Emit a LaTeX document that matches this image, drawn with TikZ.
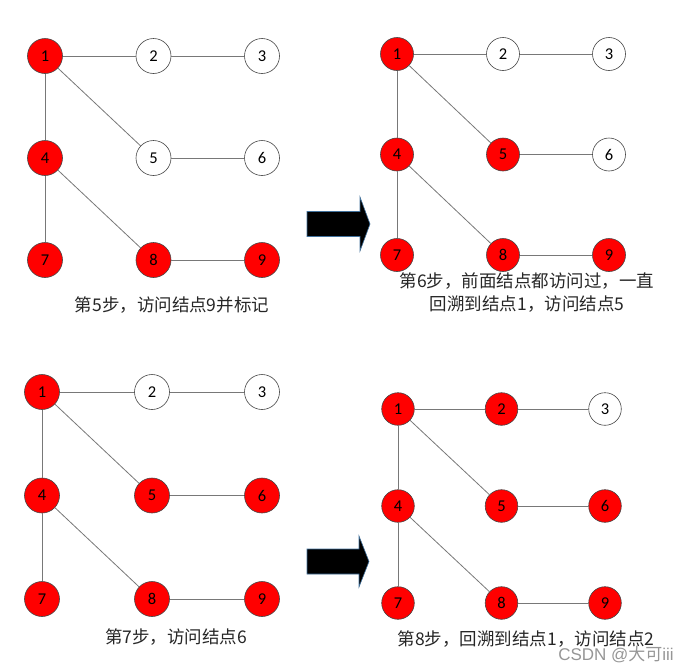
\documentclass[tikz,border=0pt]{standalone}
\usepackage{fontspec}
\newfontfamily\cjk{Noto Sans CJK SC}
\newfontfamily\numf{Carlito}
\newfontfamily\wmf{Liberation Sans}
\definecolor{edgegray}{RGB}{120,120,120}
\definecolor{nodeborder}{RGB}{70,70,70}
\definecolor{arrowedge}{RGB}{65,113,156}
\definecolor{wmgray}{RGB}{150,150,150}
\tikzset{
  gnode/.style={circle, draw=nodeborder, line width=0.6pt, inner sep=0pt, font=\numf\fontsize{16.5}{16.5}\selectfont},
  gedge/.style={draw=edgegray, line width=0.8pt},
  caption/.style={font=\cjk\fontsize{17.5}{23}\selectfont, text=black!85, align=center, inner sep=0pt},
  bigarrow/.style={fill=black, draw=arrowedge, line width=0.6pt, line join=miter},
}
\newcommand{\dfsgraph}[7]{%
  \foreach \i/\c/\r in {1/0/0,2/1/0,3/2/0,4/0/1,5/1/1,6/2/1,7/0/2,8/1/2,9/2/2}{%
    \gdef\fillc{white}%
    \foreach \v in {#7}{\ifnum\v=\i\relax\gdef\fillc{red}\fi}%
    \node[gnode, fill=\fillc, minimum size=2*#6] (#1\i) at ({#2+\c*#4},{#3+\r*#5}) {\i};
  }
  \draw[gedge] (#11) -- (#12);
  \draw[gedge] (#12) -- (#13);
  \draw[gedge] (#11) -- (#14);
  \draw[gedge] (#11) -- (#15);
  \draw[gedge] (#14) -- (#17);
  \draw[gedge] (#14) -- (#18);
  \draw[gedge] (#15) -- (#16);
  \draw[gedge] (#18) -- (#19);
}
\begin{document}
\begin{tikzpicture}[x=1pt, y=-1pt]
\useasboundingbox (0,0) rectangle (694,672);
% graph A: step 5
\dfsgraph{a}{45}{56}{108.5}{102}{17.5pt}{1,4,7,8,9}
\node[caption] (capa) at (172,305) {第5步，访问结点9并标记};
% graph B: step 6
\dfsgraph{b}{397}{54}{106}{100.5}{16.5pt}{1,4,5,7,8,9}
\node[caption] (capb) at (527,293) {第6步，前面结点都访问过，一直\\回溯到结点1，访问结点5};
% graph C: step 7
\dfsgraph{c}{42}{392}{110}{103.5}{17.5pt}{1,4,5,6,7,8,9}
\node[caption] (capc) at (176,637) {第7步，访问结点6};
% graph D: step 8
\dfsgraph{d}{398}{409}{103.5}{97}{16.3pt}{1,2,4,5,6,7,8,9}
\node[caption] (capd) at (526,639) {第8步，回溯到结点1，访问结点2};
% arrows
\draw[bigarrow] (307,211.5) -- (360,211.5) -- (360,197) -- (370,224) -- (360,251) -- (360,236.5) -- (307,236.5) -- cycle;
\draw[bigarrow] (307,549) -- (359,549) -- (359,536) -- (369,561.5) -- (359,587) -- (359,574) -- (307,574) -- cycle;
% watermark
\node[font=\wmf\fontsize{17}{17}\selectfont, text=wmgray, inner sep=0pt] (wm) at (616,655) {CSDN @{\cjk 大可}iii};
\end{tikzpicture}
\end{document}
